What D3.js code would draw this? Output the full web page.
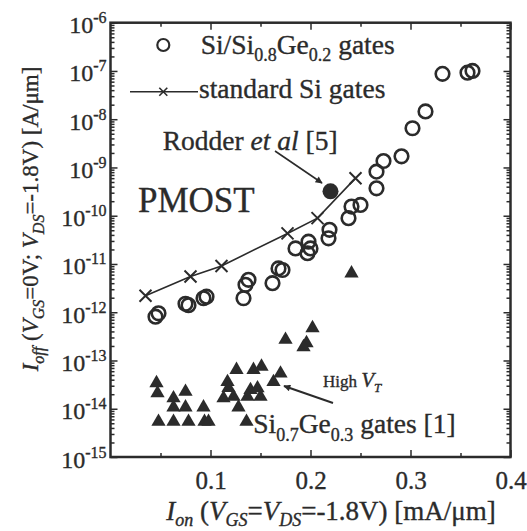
<!DOCTYPE html>
<html>
<head>
<meta charset="utf-8">
<script src="https://cdn.jsdelivr.net/npm/d3@7"></script>
<style>
  body { margin: 0; background: #fff; }
  svg { display: block; }
  svg text { font-family: "Liberation Serif", "Times New Roman", "DejaVu Serif", serif; fill: #2b2b2b; stroke: #2b2b2b; stroke-width: 0.35px; }
</style>
</head>
<body>
<svg id="chart" width="527" height="531"></svg>
<script>
// Si/Si0.8Ge0.2 gates (open circles): [Ion mA/um, Ioff A/um]
const siGeCircles = [
  [0.045, 8.1e-13], [0.048, 9.5e-13], [0.075, 1.5e-12], [0.078, 1.4e-12],
  [0.093, 1.95e-12], [0.096, 2.1e-12], [0.133, 1.95e-12], [0.135, 3.7e-12],
  [0.138, 4.7e-12], [0.162, 4.0e-12], [0.168, 8.1e-12], [0.172, 7.5e-12],
  [0.185, 2.1e-11], [0.197, 1.67e-11], [0.200, 2.1e-11], [0.198, 2.9e-11],
  [0.218, 3.4e-11], [0.219, 5.1e-11], [0.238, 8.9e-11], [0.241, 1.55e-10],
  [0.250, 1.67e-10], [0.266, 3.7e-10], [0.266, 8.2e-10], [0.273, 1.36e-9],
  [0.291, 1.7e-9], [0.302, 6.5e-9], [0.315, 1.45e-8], [0.332, 8.7e-8],
  [0.357, 9.2e-8], [0.362, 1.0e-7]
];

// standard Si gates (line with crosses)
const stdSiCrosses = [
  [0.035, 2.2e-12], [0.080, 5.5e-12], [0.111, 9.1e-12],
  [0.177, 4.3e-11], [0.207, 8.9e-11], [0.245, 6.0e-10]
];

// Rodder et al [5] (filled circle)
const rodderPoint = [[0.220, 3.2e-10]];

// Si0.7Ge0.3 gates [1] (filled triangles)
const siGeTriangles = [
  [0.202, 4.7e-13], [0.175, 2.7e-13], [0.196, 2.3e-13], [0.193, 1.9e-13],
  [0.126, 6.4e-14], [0.143, 6.4e-14], [0.151, 7.5e-14], [0.170, 5.4e-14],
  [0.163, 3.6e-14], [0.117, 3.6e-14], [0.118, 2.7e-14], [0.113, 1.65e-14],
  [0.123, 1.78e-14], [0.140, 2.45e-14], [0.147, 2.66e-14], [0.137, 1.78e-14],
  [0.150, 1.78e-14], [0.128, 1.07e-14], [0.136, 5.4e-15],
  [0.046, 3.4e-14], [0.047, 2.1e-14], [0.063, 1.65e-14], [0.075, 2.25e-14],
  [0.063, 1.07e-14], [0.075, 1.07e-14], [0.093, 1.07e-14],
  [0.048, 5.4e-15], [0.063, 5.4e-15], [0.078, 5.4e-15], [0.094, 5.4e-15], [0.098, 5.4e-15],
  [0.241, 6.4e-12]
];

const xTickValues = [0.1, 0.2, 0.3, 0.4];
const xMinorTicks = [0.05, 0.15, 0.25, 0.35];
const yTickExponents = [-15, -14, -13, -12, -11, -10, -9, -8, -7, -6];

const ink = "#2b2b2b";
const svg = d3.select("#chart");
const plotLeft = 110.5, plotRight = 510.5, plotTop = 22.7, plotBottom = 457;

const x = d3.scaleLinear().domain([0, 0.4]).range([plotLeft, plotRight]);
const y = d3.scaleLog().domain([1e-15, 1e-6]).range([plotBottom, plotTop]);

const yMajor = yTickExponents.map(e => Math.pow(10, e));
const yMinor = [];
yTickExponents.slice(0, -1).forEach(e => {
  for (let k = 2; k <= 9; k++) yMinor.push(k * Math.pow(10, e));
});

// arrowhead
svg.append("defs").append("marker")
  .attr("id", "arrow")
  .attr("viewBox", "0 0 10 10")
  .attr("refX", 9).attr("refY", 5)
  .attr("markerWidth", 10).attr("markerHeight", 7)
  .attr("markerUnits", "userSpaceOnUse")
  .attr("orient", "auto")
  .append("path").attr("d", "M0,0L10,5L0,10z").attr("fill", ink);

function styleAxis(g) {
  g.select(".domain").remove();
  g.selectAll("line").attr("stroke", ink).attr("stroke-width", 1.5);
}

// left axis (ticks inward) with labels
svg.append("g").attr("transform", `translate(${plotLeft},0)`)
  .call(d3.axisLeft(y).tickValues(yMinor).tickSize(-4).tickFormat(""))
  .call(styleAxis);
const yAxisG = svg.append("g").attr("transform", `translate(${plotLeft},0)`)
  .call(d3.axisLeft(y).tickValues(yMajor).tickSize(-7).tickPadding(4))
  .call(styleAxis);
yAxisG.selectAll("text")
  .attr("font-size", 24)
  .attr("dy", 10)
  .text(null)
  .each(function(d) {
    const t = d3.select(this);
    t.append("tspan").text("10");
    t.append("tspan").attr("font-size", 16).attr("dy", -10).text(String(Math.round(Math.log10(d))));
  });

// right axis mirror ticks
svg.append("g").attr("transform", `translate(${plotRight},0)`)
  .call(d3.axisRight(y).tickValues(yMinor).tickSize(-4).tickFormat(""))
  .call(styleAxis);
svg.append("g").attr("transform", `translate(${plotRight},0)`)
  .call(d3.axisRight(y).tickValues(yMajor).tickSize(-7).tickFormat(""))
  .call(styleAxis);

// bottom axis
svg.append("g").attr("transform", `translate(0,${plotBottom})`)
  .call(d3.axisBottom(x).tickValues(xMinorTicks).tickSize(-4).tickFormat(""))
  .call(styleAxis);
const xAxisG = svg.append("g").attr("transform", `translate(0,${plotBottom})`)
  .call(d3.axisBottom(x).tickValues(xTickValues).tickSize(-7).tickPadding(8).tickFormat(d3.format(".1f")))
  .call(styleAxis);
xAxisG.selectAll("text")
  .attr("font-size", 25)
  .attr("dy", "0.95em");

// top axis mirror ticks
svg.append("g").attr("transform", `translate(0,${plotTop})`)
  .call(d3.axisTop(x).tickValues(xMinorTicks).tickSize(-4).tickFormat(""))
  .call(styleAxis);
svg.append("g").attr("transform", `translate(0,${plotTop})`)
  .call(d3.axisTop(x).tickValues(xTickValues).tickSize(-7).tickFormat(""))
  .call(styleAxis);

// frame
svg.append("rect")
  .attr("x", plotLeft).attr("y", plotTop)
  .attr("width", plotRight - plotLeft).attr("height", plotBottom - plotTop)
  .attr("fill", "none").attr("stroke", ink).attr("stroke-width", 2.5);

// standard Si gates line
svg.append("path")
  .datum(stdSiCrosses)
  .attr("d", d3.line().x(d => x(d[0])).y(d => y(d[1])))
  .attr("fill", "none").attr("stroke", ink).attr("stroke-width", 1.6);

svg.append("g").selectAll("path")
  .data(stdSiCrosses)
  .join("path")
  .attr("transform", d => `translate(${x(d[0])},${y(d[1])})`)
  .attr("d", "M-6,-6L6,6M-6,6L6,-6")
  .attr("stroke", ink).attr("stroke-width", 2);

// open circles
svg.append("g").selectAll("circle")
  .data(siGeCircles)
  .join("circle")
  .attr("cx", d => x(d[0])).attr("cy", d => y(d[1]))
  .attr("r", 6.8)
  .attr("fill", "none").attr("stroke", ink).attr("stroke-width", 2.6);

// Rodder filled circle
svg.append("g").selectAll("circle")
  .data(rodderPoint)
  .join("circle")
  .attr("cx", d => x(d[0])).attr("cy", d => y(d[1]))
  .attr("r", 8)
  .attr("fill", ink);

// triangles
svg.append("g").selectAll("path")
  .data(siGeTriangles)
  .join("path")
  .attr("transform", d => `translate(${x(d[0])},${y(d[1])})`)
  .attr("d", d3.symbol(d3.symbolTriangle, 88))
  .attr("fill", ink);

// legend
svg.append("circle").attr("cx", 163.3).attr("cy", 45).attr("r", 6)
  .attr("fill", "none").attr("stroke", ink).attr("stroke-width", 2.2);
const leg1 = svg.append("text").attr("x", 200.7).attr("y", 54).attr("font-size", 27.5);
leg1.append("tspan").text("Si/Si");
leg1.append("tspan").attr("font-size", 18).attr("dy", 7).text("0.8");
leg1.append("tspan").attr("dy", -7).text("Ge");
leg1.append("tspan").attr("font-size", 18).attr("dy", 7).text("0.2");
leg1.append("tspan").attr("dy", -7).text(" gates");

svg.append("line").attr("x1", 130).attr("x2", 198).attr("y1", 91.7).attr("y2", 91.7)
  .attr("stroke", ink).attr("stroke-width", 1.6);
svg.append("path").attr("transform", "translate(163.3,91.7)")
  .attr("d", "M-4,-4L4,4M-4,4L4,-4").attr("stroke", ink).attr("stroke-width", 1.6);
svg.append("text").attr("x", 199).attr("y", 98).attr("font-size", 27.5).text("standard Si gates");

// annotations
svg.append("text").attr("x", 138).attr("y", 212).attr("font-size", 35).text("PMOST");

const rod = svg.append("text").attr("x", 162.7).attr("y", 150).attr("font-size", 27.5);
rod.append("tspan").text("Rodder ");
rod.append("tspan").attr("font-style", "italic").text("et al");
rod.append("tspan").text(" [5]");
svg.append("line").attr("x1", 275).attr("y1", 151).attr("x2", 322).attr("y2", 183)
  .attr("stroke", ink).attr("stroke-width", 1.6).attr("marker-end", "url(#arrow)");

const hv = svg.append("text").attr("x", 323).attr("y", 387).attr("font-size", 17);
hv.append("tspan").text("High ");
hv.append("tspan").attr("font-style", "italic").attr("font-size", 21).text("V");
hv.append("tspan").attr("font-style", "italic").attr("font-size", 13).attr("dy", 5).text("T");
svg.append("line").attr("x1", 333).attr("y1", 403).attr("x2", 284).attr("y2", 386)
  .attr("stroke", ink).attr("stroke-width", 2).attr("marker-end", "url(#arrow)");

const sg = svg.append("text").attr("x", 253.3).attr("y", 433).attr("font-size", 27.5);
sg.append("tspan").text("Si");
sg.append("tspan").attr("font-size", 18).attr("dy", 8).text("0.7");
sg.append("tspan").attr("dy", -8).text("Ge");
sg.append("tspan").attr("font-size", 18).attr("dy", 8).text("0.3");
sg.append("tspan").attr("dy", -8).text(" gates [1]");

// axis titles
const xt = svg.append("text").attr("x", 331).attr("y", 520).attr("font-size", 27).attr("text-anchor", "middle");
xt.append("tspan").attr("font-style", "italic").text("I");
xt.append("tspan").attr("font-style", "italic").attr("font-size", 18).attr("dy", 6).text("on");
xt.append("tspan").attr("dy", -6).text(" (");
xt.append("tspan").attr("font-style", "italic").text("V");
xt.append("tspan").attr("font-style", "italic").attr("font-size", 18).attr("dy", 6).text("GS");
xt.append("tspan").attr("dy", -6).text("=");
xt.append("tspan").attr("font-style", "italic").text("V");
xt.append("tspan").attr("font-style", "italic").attr("font-size", 18).attr("dy", 6).text("DS");
xt.append("tspan").attr("dy", -6).text("=-1.8V) [mA/μm]");

const yt = svg.append("text").attr("transform", "translate(38,219) rotate(-90)")
  .attr("font-size", 23).attr("text-anchor", "middle");
yt.append("tspan").attr("font-style", "italic").text("I");
yt.append("tspan").attr("font-style", "italic").attr("font-size", 16).attr("dy", 6).text("off");
yt.append("tspan").attr("dy", -6).text(" (");
yt.append("tspan").attr("font-style", "italic").text("V");
yt.append("tspan").attr("font-style", "italic").attr("font-size", 16).attr("dy", 6).text("GS");
yt.append("tspan").attr("dy", -6).text("=0V; ");
yt.append("tspan").attr("font-style", "italic").text("V");
yt.append("tspan").attr("font-style", "italic").attr("font-size", 16).attr("dy", 6).text("DS");
yt.append("tspan").attr("dy", -6).text("=-1.8V) [A/μm]");
</script>
</body>
</html>
